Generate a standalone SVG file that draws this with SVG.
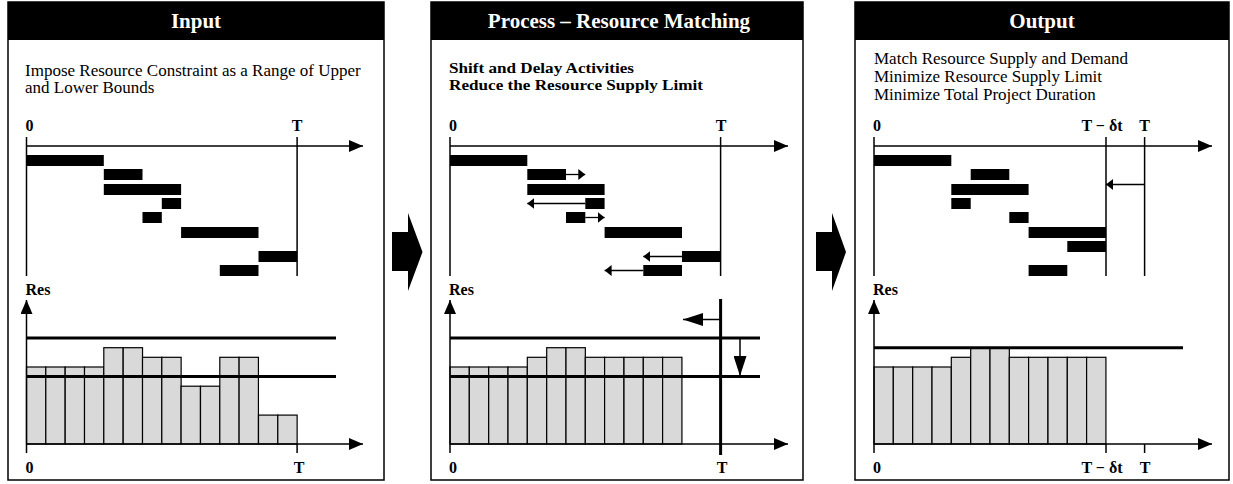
<svg xmlns="http://www.w3.org/2000/svg" width="1233" height="484" viewBox="0 0 1233 484">
<style>
.frame{fill:#fff;stroke:#000;stroke-width:1.5}
.hdr{fill:#000}
.htxt{font-family:"Liberation Serif",serif;font-weight:bold;font-size:21px;fill:#fff;text-anchor:middle}
.desc{font-family:"Liberation Serif",serif;font-size:17px;fill:#000}
.descb{font-family:"Liberation Serif",serif;font-weight:bold;font-size:15px;fill:#000}
.lbl{font-family:"Liberation Serif",serif;font-weight:bold;font-size:16px;fill:#000}
.mid{text-anchor:middle}
.bar{fill:#000}
.hist{fill:#d9d9d9;stroke:#000;stroke-width:1.2}
.axis{stroke:#000;stroke-width:1.5;fill:none}
.ax{stroke:#000;stroke-width:1.5;fill:none;marker-end:url(#ax)}
.bound{stroke:#000;stroke-width:3;fill:none}
.sm{stroke:#000;stroke-width:1.3;fill:none;marker-end:url(#sm)}
.lg{stroke:#000;stroke-width:1.5;fill:none;marker-end:url(#lg)}
.big{fill:#000}
</style>
<defs>
<marker id="ax" markerUnits="userSpaceOnUse" markerWidth="14" markerHeight="12" refX="14" refY="6" orient="auto"><path d="M0,0 L14,6 L0,12 Z" fill="#000"/></marker>
<marker id="sm" markerUnits="userSpaceOnUse" markerWidth="7" markerHeight="11" refX="7" refY="5.5" orient="auto"><path d="M0,0 L7,5.5 L0,11 Z" fill="#000"/></marker>
<marker id="lg" markerUnits="userSpaceOnUse" markerWidth="20" markerHeight="13" refX="20" refY="6.5" orient="auto"><path d="M0,0 L20,6.5 L0,13 Z" fill="#000"/></marker>
</defs>

<g id="panel-input">
<rect class="frame" x="8" y="2" width="376" height="478"/>
<rect class="hdr" x="8" y="2" width="376" height="38"/>
<text class="htxt" x="196" y="28">Input</text>
<text class="desc" x="25" y="76">Impose Resource Constraint as a Range of Upper</text>
<text class="desc" x="25" y="93">and Lower Bounds</text>
<text class="lbl" x="25.5" y="131">0</text>
<text class="lbl mid" x="297" y="131">T</text>
<line class="axis" x1="26.5" y1="137" x2="26.5" y2="276"/>
<line class="axis" x1="297.1" y1="137" x2="297.1" y2="276"/>
<line class="ax" x1="26.5" y1="146" x2="363" y2="146"/>
<rect class="bar" x="26.5" y="155" width="77.3" height="11"/>
<rect class="bar" x="103.8" y="169" width="38.7" height="11"/>
<rect class="bar" x="103.8" y="184" width="77.3" height="11"/>
<rect class="bar" x="161.8" y="198" width="19.3" height="11"/>
<rect class="bar" x="142.5" y="212" width="19.3" height="11"/>
<rect class="bar" x="181.1" y="227" width="77.4" height="11"/>
<rect class="bar" x="258.5" y="251" width="38.6" height="11"/>
<rect class="bar" x="219.8" y="265" width="38.7" height="11"/>
<text class="lbl" x="25.5" y="295">Res</text>
<rect class="hist" x="26.5" y="367" width="19.33" height="77"/>
<rect class="hist" x="45.8" y="367" width="19.33" height="77"/>
<rect class="hist" x="65.2" y="367" width="19.33" height="77"/>
<rect class="hist" x="84.5" y="367" width="19.33" height="77"/>
<rect class="hist" x="103.8" y="347.7" width="19.33" height="96.3"/>
<rect class="hist" x="123.2" y="347.7" width="19.33" height="96.3"/>
<rect class="hist" x="142.5" y="357.3" width="19.33" height="86.7"/>
<rect class="hist" x="161.8" y="357.3" width="19.33" height="86.7"/>
<rect class="hist" x="181.1" y="386.2" width="19.33" height="57.8"/>
<rect class="hist" x="200.5" y="386.2" width="19.33" height="57.8"/>
<rect class="hist" x="219.8" y="357.3" width="19.33" height="86.7"/>
<rect class="hist" x="239.1" y="357.3" width="19.33" height="86.7"/>
<rect class="hist" x="258.5" y="415.1" width="19.33" height="28.9"/>
<rect class="hist" x="277.8" y="415.1" width="19.33" height="28.9"/>
<line class="bound" x1="26.5" y1="338" x2="336" y2="338"/>
<line class="bound" x1="26.5" y1="376.6" x2="336" y2="376.6"/>
<line class="ax" x1="26.5" y1="453" x2="26.5" y2="300"/>
<line class="ax" x1="26.5" y1="444" x2="363" y2="444"/>
<line class="axis" x1="297.1" y1="444" x2="297.1" y2="453"/>
<text class="lbl" x="25.5" y="472.5">0</text>
<text class="lbl mid" x="299" y="472.5">T</text>
</g>

<g id="panel-process">
<rect class="frame" x="431" y="2" width="372" height="478"/>
<rect class="hdr" x="431" y="2" width="372" height="38"/>
<text class="htxt" x="619" y="28">Process – Resource Matching</text>
<text class="descb" x="449" y="73" textLength="185" lengthAdjust="spacingAndGlyphs">Shift and Delay Activities</text>
<text class="descb" x="449" y="89.5" textLength="254" lengthAdjust="spacingAndGlyphs">Reduce the Resource Supply Limit</text>
<text class="lbl" x="449" y="131">0</text>
<text class="lbl mid" x="721" y="131">T</text>
<line class="axis" x1="450" y1="137" x2="450" y2="276"/>
<line class="axis" x1="720.6" y1="137" x2="720.6" y2="276"/>
<line class="ax" x1="450" y1="146" x2="788" y2="146"/>
<rect class="bar" x="450" y="155" width="77.3" height="11"/>
<rect class="bar" x="527.3" y="169" width="38.7" height="11"/>
<line class="sm" x1="566" y1="174.5" x2="585.3" y2="174.5"/>
<rect class="bar" x="527.3" y="184" width="77.3" height="11"/>
<rect class="bar" x="585.3" y="198" width="19.3" height="11"/>
<line class="sm" x1="585.3" y1="203.5" x2="527.3" y2="203.5"/>
<rect class="bar" x="566" y="212" width="19.3" height="11"/>
<line class="sm" x1="585.3" y1="217.5" x2="604.6" y2="217.5"/>
<rect class="bar" x="604.6" y="227" width="77.4" height="11"/>
<rect class="bar" x="682" y="251" width="38.6" height="11"/>
<line class="sm" x1="682" y1="256.5" x2="643.3" y2="256.5"/>
<rect class="bar" x="643.3" y="265" width="38.7" height="11"/>
<line class="sm" x1="643.3" y1="270.5" x2="604.6" y2="270.5"/>
<text class="lbl" x="449" y="295">Res</text>
<rect class="hist" x="450" y="367" width="19.33" height="77"/>
<rect class="hist" x="469.3" y="367" width="19.33" height="77"/>
<rect class="hist" x="488.7" y="367" width="19.33" height="77"/>
<rect class="hist" x="508" y="367" width="19.33" height="77"/>
<rect class="hist" x="527.3" y="357.3" width="19.33" height="86.7"/>
<rect class="hist" x="546.7" y="347.7" width="19.33" height="96.3"/>
<rect class="hist" x="566" y="347.7" width="19.33" height="96.3"/>
<rect class="hist" x="585.3" y="357.3" width="19.33" height="86.7"/>
<rect class="hist" x="604.6" y="357.3" width="19.33" height="86.7"/>
<rect class="hist" x="624" y="357.3" width="19.33" height="86.7"/>
<rect class="hist" x="643.3" y="357.3" width="19.33" height="86.7"/>
<rect class="hist" x="662.6" y="357.3" width="19.33" height="86.7"/>
<line class="bound" x1="450" y1="338" x2="760" y2="338"/>
<line class="bound" x1="450" y1="376.6" x2="760" y2="376.6"/>
<line class="bound" x1="720.6" y1="299" x2="720.6" y2="455"/>
<line class="lg" x1="720.6" y1="319.5" x2="683" y2="319.5"/>
<line class="lg" x1="740" y1="338" x2="740" y2="376"/>
<line class="ax" x1="450" y1="453" x2="450" y2="300"/>
<line class="ax" x1="450" y1="444" x2="788" y2="444"/>
<text class="lbl" x="449" y="472.5">0</text>
<text class="lbl mid" x="722" y="472.5">T</text>
</g>

<g id="panel-output">
<rect class="frame" x="855" y="2" width="374" height="478"/>
<rect class="hdr" x="855" y="2" width="374" height="38"/>
<text class="htxt" x="1042" y="28">Output</text>
<text class="desc" x="874" y="64">Match Resource Supply and Demand</text>
<text class="desc" x="874" y="82">Minimize Resource Supply Limit</text>
<text class="desc" x="874" y="100">Minimize Total Project Duration</text>
<text class="lbl" x="873" y="131">0</text>
<text class="lbl mid" x="1102" y="131">T − δt</text>
<text class="lbl mid" x="1144.6" y="131">T</text>
<line class="axis" x1="874" y1="137" x2="874" y2="276"/>
<line class="axis" x1="1106" y1="137" x2="1106" y2="276"/>
<line class="axis" x1="1144.6" y1="137" x2="1144.6" y2="276"/>
<line class="ax" x1="874" y1="146" x2="1212" y2="146"/>
<rect class="bar" x="874" y="155" width="77.3" height="11"/>
<rect class="bar" x="970.7" y="169" width="38.6" height="11"/>
<rect class="bar" x="951.3" y="184" width="77.3" height="11"/>
<line class="sm" x1="1144.6" y1="184.5" x2="1106" y2="184.5"/>
<rect class="bar" x="951.3" y="198" width="19.4" height="11"/>
<rect class="bar" x="1009.3" y="212" width="19.3" height="11"/>
<rect class="bar" x="1028.6" y="227" width="77.4" height="11"/>
<rect class="bar" x="1067.3" y="241" width="38.7" height="11"/>
<rect class="bar" x="1028.6" y="265" width="38.7" height="11"/>
<text class="lbl" x="873" y="295">Res</text>
<rect class="hist" x="874" y="367" width="19.33" height="77"/>
<rect class="hist" x="893.3" y="367" width="19.33" height="77"/>
<rect class="hist" x="912.7" y="367" width="19.33" height="77"/>
<rect class="hist" x="932" y="367" width="19.33" height="77"/>
<rect class="hist" x="951.3" y="357.3" width="19.33" height="86.7"/>
<rect class="hist" x="970.7" y="347.7" width="19.33" height="96.3"/>
<rect class="hist" x="990" y="347.7" width="19.33" height="96.3"/>
<rect class="hist" x="1009.3" y="357.3" width="19.33" height="86.7"/>
<rect class="hist" x="1028.6" y="357.3" width="19.33" height="86.7"/>
<rect class="hist" x="1048" y="357.3" width="19.33" height="86.7"/>
<rect class="hist" x="1067.3" y="357.3" width="19.33" height="86.7"/>
<rect class="hist" x="1086.6" y="357.3" width="19.33" height="86.7"/>
<line class="bound" x1="874" y1="347.7" x2="1183" y2="347.7"/>
<line class="ax" x1="874" y1="453" x2="874" y2="300"/>
<line class="ax" x1="874" y1="444" x2="1212" y2="444"/>
<line class="axis" x1="1106" y1="444" x2="1106" y2="453"/>
<line class="axis" x1="1144.6" y1="444" x2="1144.6" y2="453"/>
<text class="lbl" x="873" y="472.5">0</text>
<text class="lbl mid" x="1102" y="472.5">T − δt</text>
<text class="lbl mid" x="1145" y="472.5">T</text>
</g>

<g id="connectors">
<path class="big" d="M392,232 H408 V213 L422.5,252 L408,291 V271 H392 Z"/>
<path class="big" d="M816,232 H832 V213 L846,252 L832,291 V271 H816 Z"/>
</g>
</svg>
